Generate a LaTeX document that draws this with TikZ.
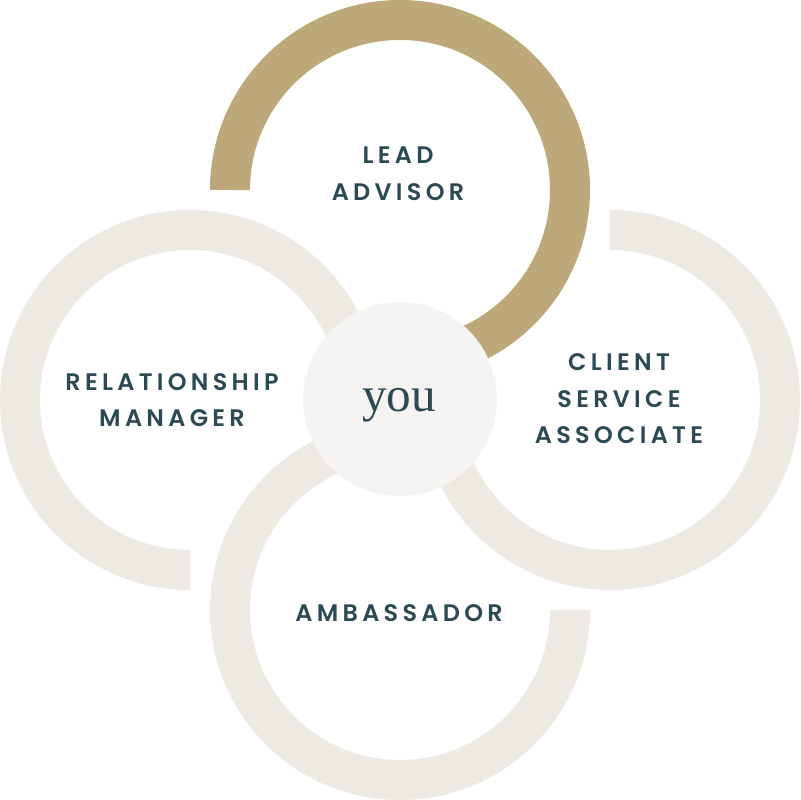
\documentclass[tikz,border=0pt]{standalone}
\usepackage{fontspec}
\setmainfont{Liberation Serif}
\newfontfamily\labelfont{Poppins SemiBold}[LetterSpace=18]
\definecolor{gold}{RGB}{189,168,122}
\definecolor{sand}{RGB}{237,234,227}
\definecolor{pearl}{RGB}{245,244,242}
\definecolor{slate}{RGB}{43,74,83}
\tikzset{
  ring/.style = {line width=1cm},
  hub/.style = {circle, fill=pearl, minimum size=4.85cm, inner sep=0pt},
  role/.style = {text=slate, align=center, font=\labelfont\fontsize{17}{26}\selectfont},
  word/.style = {text=slate, font=\fontsize{35}{40}\selectfont}
}
\begin{document}
\begin{tikzpicture}[x=0.025cm, y=0.025cm]
  \useasboundingbox (0,0) rectangle (800,800);
  \coordinate (lead) at (400,610);
  \coordinate (service) at (610,400);
  \coordinate (ambassador) at (400,190);
  \coordinate (relation) at (190,400);
  \draw[ring, sand] (relation) ++(270:170) arc[start angle=270, end angle=0, radius=170];
  \draw[ring, sand] (ambassador) ++(0:170) arc[start angle=0, end angle=-270, radius=170];
  \draw[ring, sand] (service) ++(90:170) arc[start angle=90, end angle=-180, radius=170];
  \draw[ring, gold] (lead) ++(180:170) arc[start angle=180, end angle=-90, radius=170];
  \node[hub] (hub) at (400,401) {};
  \node[word, anchor=base] (you) at (399,388) {you};
  \node[role] (leadtext) at (398,626) {LEAD\\ADVISOR};
  \node[role] (relationtext) at (172,400) {RELATIONSHIP\\MANAGER};
  \node[role] (servicetext) at (619,401) {CLIENT\\SERVICE\\ASSOCIATE};
  \node[role] (ambassadortext) at (399,187) {AMBASSADOR};
\end{tikzpicture}
\end{document}
